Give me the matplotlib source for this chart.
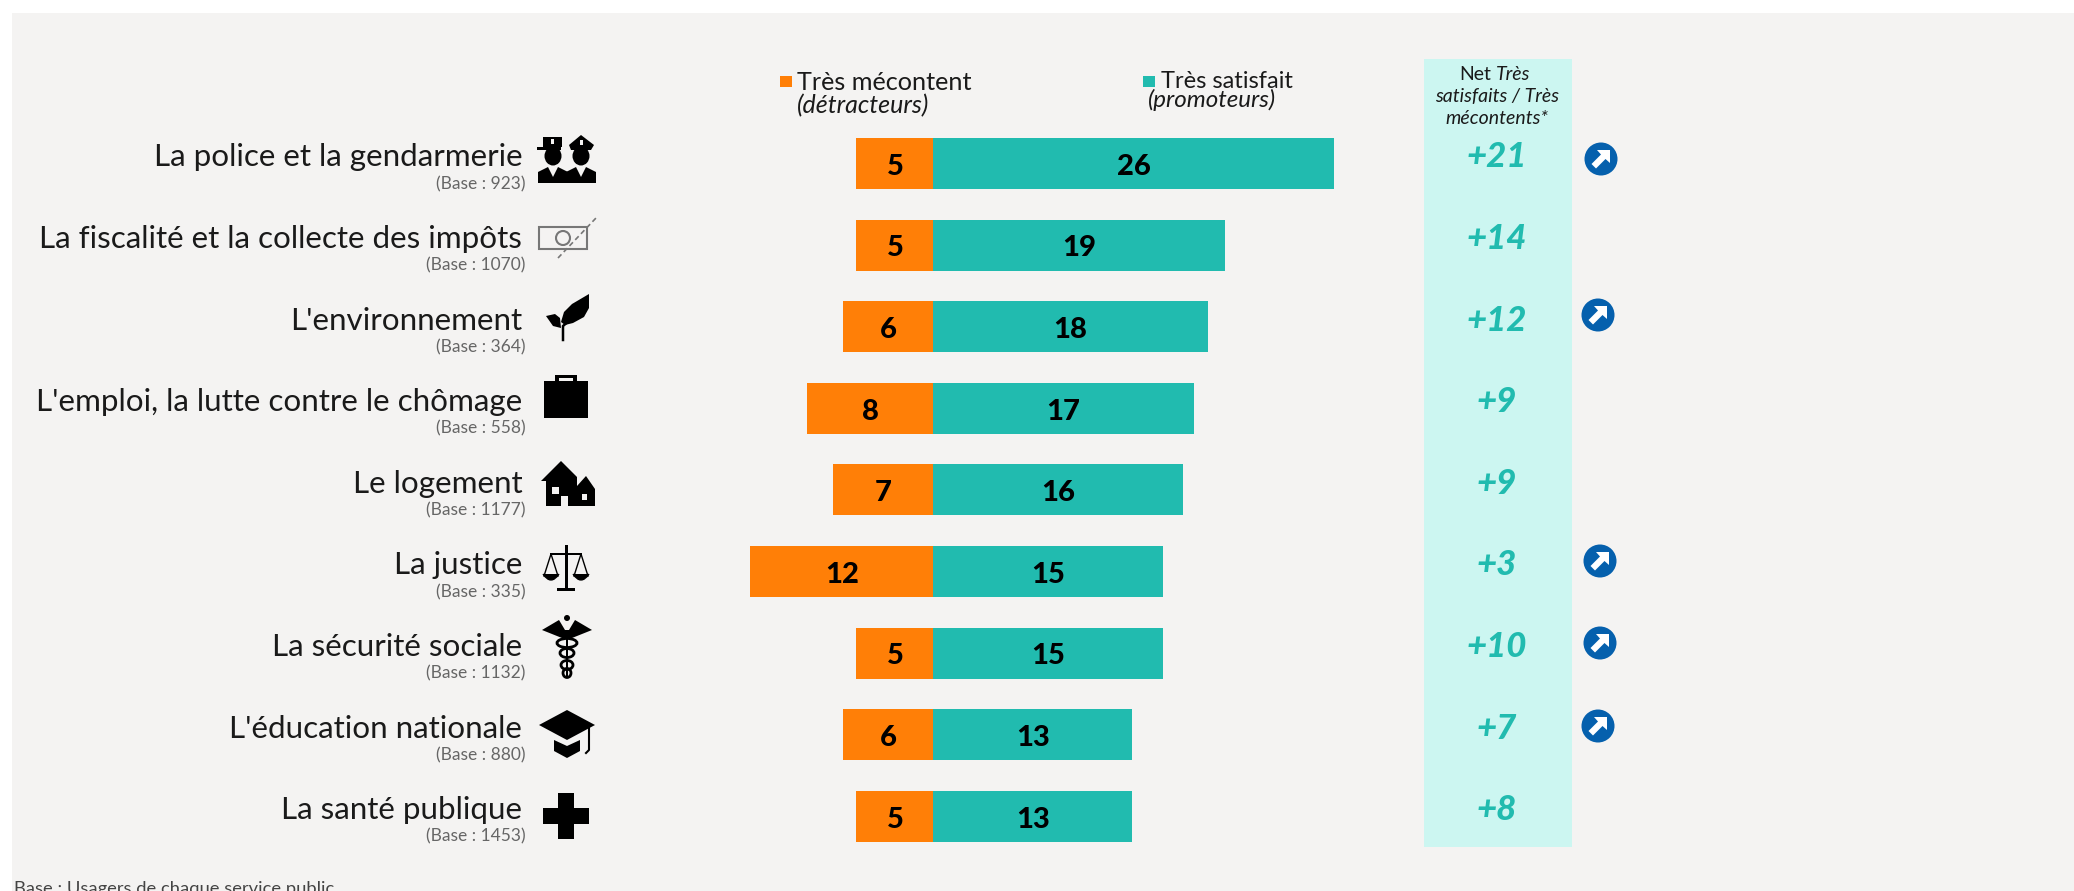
import matplotlib
matplotlib.use("Agg")
import matplotlib.pyplot as plt
from matplotlib.patches import Rectangle, Circle, Polygon, Ellipse, PathPatch
from matplotlib.path import Path

plt.rcParams['font.family'] = ['Lato', 'DejaVu Sans']

# data
labels = ["La police et la gendarmerie", "La fiscalité et la collecte des impôts", "L'environnement",
          "L'emploi, la lutte contre le chômage", "Le logement", "La justice", "La sécurité sociale",
          "L'éducation nationale", "La santé publique"]
bases = [923, 1070, 364, 558, 1177, 335, 1132, 880, 1453]
# printed (rounded) values
mecontent = [5, 5, 6, 8, 7, 12, 5, 6, 5]
satisfait = [26, 19, 18, 17, 16, 15, 15, 13, 13]
# bar lengths as read from the picture, not rounded
mecontent_bar = [5, 5, 5.9, 8.2, 6.5, 11.9, 5, 5.9, 5]
satisfait_bar = [26, 18.9, 17.8, 16.9, 16.2, 14.9, 14.9, 12.9, 12.9]
net = [21, 14, 12, 9, 9, 3, 10, 7, 8]
hausse = [True, False, True, False, False, True, True, True, False]
hausse_x = [1601, 0, 1598, 0, 0, 1600, 1600, 1598, 0]
hausse_y = [159, 0, 315, 0, 0, 561, 643, 726, 0]

ORANGE = "#FF7F07"
TEAL = "#21BBAF"
PANEL = "#CCF6F1"
BG = "#F4F3F2"
BLUE = "#0560AD"

W, H = 2074, 891
fig = plt.figure(figsize=(W / 100, H / 100), dpi=100, facecolor="white")

# overlay in pixels for background, text and icons
px = fig.add_axes([0, 0, 1, 1], zorder=1)
px.set_xlim(0, W)
px.set_ylim(H, 0)
px.axis("off")
px.add_patch(Rectangle((12, 13), W, H, fc=BG, ec="none", zorder=0))
px.add_patch(Rectangle((1424, 59), 148, 788, fc=PANEL, ec="none", zorder=1))

# bars: value axis, zero at x=933.5, 15.4 px per point, rows 81.6 px apart
ax = fig.add_axes([0, 0, 1, 1], zorder=2)
ax.patch.set_alpha(0)
ax.axis("off")
ax.set_xlim(-933.5 / 15.4, (W - 933.5) / 15.4)
ax.set_ylim((H - 163.5) / 81.6, -163.5 / 81.6)
rows = list(range(len(labels)))
ax.barh(rows, [-v for v in mecontent_bar], height=0.625, color=ORANGE)
ax.barh(rows, satisfait_bar, height=0.625, color=TEAL)
for i in rows:
    ax.text(-mecontent_bar[i] / 2, i + 0.04, str(mecontent[i]), ha="center", va="center",
            fontsize=21, fontweight="black", color="black")
    ax.text(satisfait_bar[i] / 2, i + 0.04, str(satisfait[i]), ha="center", va="center",
            fontsize=21, fontweight="black", color="black")
    ax.text(-26.7, i - 0.075, labels[i], ha="right", va="center", fontsize=22.6, color="#1A1A1A")
    ax.text(-26.5, i + 0.25, "(Base : %d)" % bases[i], ha="right", va="center", fontsize=12.5, color="#666666")
    ax.text(36.6, i - 0.075, "+%d" % net[i], ha="center", va="center", fontsize=25, fontweight="black",
            style="italic", color=TEAL)

# legend
px.add_patch(Rectangle((780, 76), 12, 11, fc=ORANGE, ec="none", zorder=3))
px.add_patch(Rectangle((1143, 76), 12, 11, fc=TEAL, ec="none", zorder=3))
px.text(797, 82, "Très mécontent", va="center", fontsize=18.2, color="#1A1A1A")
px.text(797, 106, "(détracteurs)", va="center", fontsize=18, style="italic", color="#1A1A1A")
px.text(1161, 82, "Très satisfait", va="center", fontsize=17, color="#1A1A1A")
px.text(1148, 100, "(promoteurs)", va="center", fontsize=17.4, style="italic", color="#1A1A1A")

# net header
px.text(1491, 75, "Net", ha="right", va="center", fontsize=14, color="#1A1A1A")
px.text(1496, 75, "Très", ha="left", va="center", fontsize=14, style="italic", color="#1A1A1A")
px.text(1497, 97, "satisfaits / Très", ha="center", va="center", fontsize=14, style="italic", color="#1A1A1A")
px.text(1497, 119, "mécontents*", ha="center", va="center", fontsize=14, style="italic", color="#1A1A1A")

# footer, cut by the bottom of the image
px.text(14, 889, "Base : Usagers de chaque service public", va="center", fontsize=13.2, color="#444444")


def poly(points, cx, cy, color="black", z=4):
    px.add_patch(Polygon([(cx + a, cy + b) for a, b in points], closed=True, fc=color, ec="none", zorder=z))


def rect(x, y, w, h, cx, cy, color="black", z=4):
    px.add_patch(Rectangle((cx + x, cy + y), w, h, fc=color, ec="none", zorder=z))


def ell(x, y, w, h, cx, cy, color="black", z=4):
    px.add_patch(Ellipse((cx + x, cy + y), w, h, fc=color, ec="none", zorder=z))


def police(cx, cy):
    for dx in (-14, 14):
        ell(dx, -3, 17, 19, cx, cy)
        poly([(dx + 15, 24), (dx - 15, 24), (dx - 15, 13), (dx - 5, 8), (dx, 18), (dx + 5, 8), (dx + 15, 13)], cx, cy)
    rect(-24, -22, 19, 10, cx, cy)
    rect(-30, -12, 24, 3, cx, cy)
    poly([(2, -14), (14, -24), (27, -14), (24, -9), (4, -9)], cx, cy)
    rect(-16, -20, 3, 5, cx, cy, BG, 5)
    rect(12.5, -19, 3, 5, cx, cy, BG, 5)


def money(cx, cy):
    px.add_patch(Rectangle((cx - 28, cy - 11), 48, 22, fc="none", ec="#777777", lw=1.5, zorder=4))
    px.add_patch(Circle((cx - 4, cy), 7, fc="none", ec="#777777", lw=1.5, zorder=4))
    px.plot([cx - 9, cx + 29], [cy + 20, cy - 20], color="#777777", lw=1.2, ls=(0, (3, 2)), zorder=5)


def leaf(cx, cy):
    poly([(-6, 4), (-3, -6), (5, -14), (22, -24), (22, -10), (17, -1), (6, 5), (-2, 7)], cx, cy)
    poly([(-21, -2), (-12, -4), (-7, 0), (-6, 10), (-14, 8)], cx, cy)
    px.plot([cx - 4, cx - 4, cx + 3], [cy + 22, cy + 8, cy + 2], color="black", lw=1.8, zorder=4)


def briefcase(cx, cy):
    rect(-22, -17, 44, 37, cx, cy)
    rect(-11, -23, 22, 7, cx, cy)
    rect(-7, -20, 14, 3, cx, cy, BG, 5)


def house(cx, cy):
    poly([(-26, -3), (-6, -23), (10, -7), (10, 22), (-21, 22), (-21, -3)], cx, cy)
    poly([(10, 2), (19, -8), (28, 5), (28, 22), (10, 22)], cx, cy)
    rect(-15, 3, 7, 7, cx, cy, BG, 5)
    rect(-6, 12, 7, 10, cx, cy, BG, 5)
    rect(15, 10, 5, 6, cx, cy, BG, 5)


def scales(cx, cy):
    rect(-1.5, -23, 3, 45, cx, cy)
    rect(-9, 20, 18, 3, cx, cy)
    rect(-16, -15, 32, 2, cx, cy)
    for dx in (-15, 15):
        px.plot([cx + dx - 7, cx + dx, cx + dx + 7], [cy + 8, cy - 14, cy + 8], color="black", lw=1, zorder=4)
        px.add_patch(PathPatch(Path([(cx + dx - 8, cy + 6), (cx + dx, cy + 18), (cx + dx + 8, cy + 6)],
                                    [Path.MOVETO, Path.CURVE3, Path.CURVE3]), fc="black", ec="black", zorder=4))


def caduceus(cx, cy):
    poly([(-25, -14), (-8, -24), (-2, -14), (2, -14), (8, -24), (25, -14), (5, -6), (-5, -6)], cx, cy)
    ell(0, -26, 6, 6, cx, cy)
    rect(-1, -14, 2, 48, cx, cy)
    for dy, w in ((-1, 20), (9, 14), (21, 12), (29, 8)):
        px.add_patch(Ellipse((cx, cy + dy), w, 9, fc="none", ec="black", lw=2, zorder=4))


def cap(cx, cy):
    poly([(-28, -7), (0, -22), (28, -7), (0, 8)], cx, cy)
    poly([(-13, 8), (0, 14), (13, 8), (13, 19), (0, 26), (-13, 19)], cx, cy)
    px.plot([cx + 22, cx + 22, cx + 19], [cy - 4, cy + 18, cy + 21], color="black", lw=1.5, zorder=4)


def plus(cx, cy):
    rect(-8, -23, 16, 46, cx, cy)
    rect(-23, -8, 46, 16, cx, cy)


icons = [police, money, leaf, briefcase, house, scales, caduceus, cap, plus]
icon_x = [567, 567, 567, 566, 567, 566, 567, 567, 566]
icon_y = [159, 238, 318, 398, 484, 568, 644, 732, 816]
for i in rows:
    icons[i](icon_x[i], icon_y[i])

# trend arrows
for i in rows:
    if hausse[i]:
        cx, cy = hausse_x[i], hausse_y[i]
        px.add_patch(Circle((cx, cy), 16.5, fc=BLUE, ec="none", zorder=4))
        poly([(-4, -9), (9, -9), (9, 4), (4.5, 0), (-5, 9.5), (-9.5, 5), (0, -4.5)], cx, cy, "white", 5)

fig.savefig("out.png", dpi=100, facecolor="white")
